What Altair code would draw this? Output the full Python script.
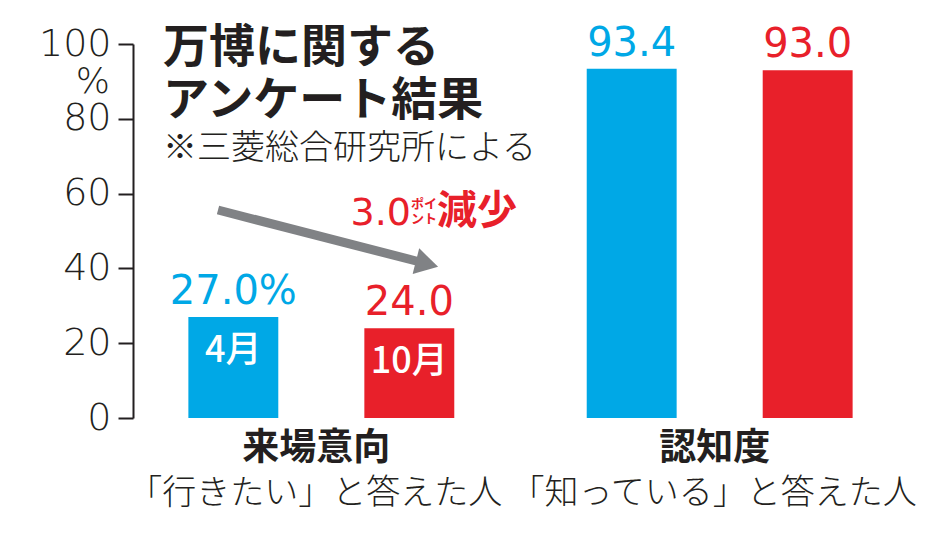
import altair as alt
import pandas as pd

# ---- data ----
groups = ["来場意向", "来場意向", "認知度", "認知度"]
periods = ["4月", "10月", "4月", "10月"]
values = [27.0, 24.0, 93.4, 93.0]
value_labels = ["27.0%", "24.0", "93.4", "93.0"]
inner_labels = ["4月", "10月", "", ""]

group_names = ["来場意向", "認知度"]
group_sub = ["「行きたい」と答えた人", "「知っている」と答えた人"]

y_ticks = [0, 20, 40, 60, 80, 100]

title_lines = ["万博に関する", "アンケート結果"]
source_note = "※三菱総合研究所による"

BLUE = "#00a8e6"
RED = "#e8202a"
INK = "#231f20"
GRAY = "#808285"

df = pd.DataFrame({
    "group": groups,
    "period": periods,
    "value": values,
    "vlabel": value_labels,
    "inner": inner_labels,
})
gdf = pd.DataFrame({"group": group_names, "sub": group_sub})

x_scale = alt.Scale(domain=group_names, paddingInner=0.3325, paddingOuter=0.139)
xo_scale = alt.Scale(domain=["4月", "10月"], paddingInner=0.489, paddingOuter=0)
y_scale = alt.Scale(domain=[0, 100], nice=False, zero=True)
color_scale = alt.Scale(domain=["4月", "10月"], range=[BLUE, RED])

X = alt.X("group:N", scale=x_scale, axis=None, sort=group_names)
XO = alt.XOffset("period:N", scale=xo_scale, sort=["4月", "10月"])

bars = alt.Chart(df).mark_bar().encode(
    x=X,
    xOffset=XO,
    y=alt.Y(
        "value:Q",
        scale=y_scale,
        axis=alt.Axis(
            values=y_ticks,
            title=None,
            grid=False,
            labelFont="DejaVu Sans",
            labelFontSize=38,
            labelFontWeight=200,
            labelColor=INK,
            domainColor=INK,
            domainWidth=2,
            tickColor=INK,
            tickWidth=2,
            tickSize=15,
            labelPadding=7,
        ),
    ),
    color=alt.Color("period:N", scale=color_scale, legend=None),
)

value_text = alt.Chart(df).mark_text(
    font="DejaVu Sans", fontSize=40, baseline="alphabetic", dy=-13
).encode(
    x=X,
    xOffset=XO,
    y=alt.Y("value:Q", scale=y_scale),
    text="vlabel:N",
    color=alt.Color("period:N", scale=color_scale, legend=None),
)

inner_text = alt.Chart(df).mark_text(
    font="Noto Sans CJK JP", fontSize=36, fontWeight=500, baseline="middle", dy=34, color="white"
).encode(
    x=X,
    xOffset=XO,
    y=alt.Y("value:Q", scale=y_scale),
    text="inner:N",
)

cat_bold = alt.Chart(gdf).mark_text(
    font="Noto Sans CJK JP", fontSize=37, fontWeight="bold", color=INK, baseline="middle", dx=-5
).encode(x=X, y=alt.value(405), text="group:N")

cat_sub = alt.Chart(gdf).mark_text(
    font="Noto Sans CJK JP", fontSize=34, fontWeight=300, color=INK, baseline="middle", dx=-6
).encode(x=X, y=alt.value(450), text="sub:N")

pct = alt.Chart(pd.DataFrame({"t": ["%"]})).mark_text(
    font="DejaVu Sans", fontSize=36, fontWeight=200, color=INK, align="right", baseline="middle"
).encode(x=alt.value(-23), y=alt.value(38), text="t:N")

title1 = alt.Chart(pd.DataFrame({"t": [title_lines[0]]})).mark_text(
    font="Noto Sans CJK JP", fontSize=46, fontWeight="bold", color=INK, align="left", baseline="middle"
).encode(x=alt.value(30), y=alt.value(4), text="t:N")
title2 = alt.Chart(pd.DataFrame({"t": [title_lines[1]]})).mark_text(
    font="Noto Sans CJK JP", fontSize=46, fontWeight="bold", color=INK, align="left", baseline="middle"
).encode(x=alt.value(30), y=alt.value(57), text="t:N")
note = alt.Chart(pd.DataFrame({"t": [source_note]})).mark_text(
    font="Noto Sans CJK JP", fontSize=34, fontWeight=300, color=INK, align="left", baseline="middle"
).encode(x=alt.value(30), y=alt.value(105), text="t:N")

arrow_line = alt.Chart(pd.DataFrame({"a": [0]})).mark_rule(
    color=GRAY, strokeWidth=9, strokeCap="butt"
).encode(x=alt.value(85), y=alt.value(166), x2=alt.value(287), y2=alt.value(218))
arrow_head = alt.Chart(pd.DataFrame({"a": [0]})).mark_point(
    shape="triangle-right", size=700, angle=14.5, filled=True, color=GRAY, opacity=1
).encode(x=alt.value(294), y=alt.value(220))

drop_num = alt.Chart(pd.DataFrame({"t": ["3.0"]})).mark_text(
    font="DejaVu Sans", fontSize=38, fontWeight="normal", color=RED, align="right", baseline="alphabetic"
).encode(x=alt.value(278), y=alt.value(181), text="t:N")
drop_pt1 = alt.Chart(pd.DataFrame({"t": ["ポイ"]})).mark_text(
    font="Noto Sans CJK JP", fontSize=13, fontWeight="bold", color=RED, align="center", baseline="middle"
).encode(x=alt.value(291), y=alt.value(160), text="t:N")
drop_pt2 = alt.Chart(pd.DataFrame({"t": ["ント"]})).mark_text(
    font="Noto Sans CJK JP", fontSize=13, fontWeight="bold", color=RED, align="center", baseline="middle"
).encode(x=alt.value(291), y=alt.value(175), text="t:N")
drop_word = alt.Chart(pd.DataFrame({"t": ["減少"]})).mark_text(
    font="Noto Sans CJK JP", fontSize=40, fontWeight="bold", color=RED, align="left", baseline="middle"
).encode(x=alt.value(304), y=alt.value(168), text="t:N")

chart = alt.layer(
    bars, value_text, inner_text, cat_bold, cat_sub, pct,
    title1, title2, note, arrow_line, arrow_head,
    drop_num, drop_pt1, drop_pt2, drop_word,
).properties(
    width=775,
    height=374,
    padding={"left": 133, "top": 44, "right": 26, "bottom": 116},
    autosize="none",
    background="white",
).configure_view(stroke=None)

chart.save("out.html", embed_options={"renderer": "svg", "actions": False})
